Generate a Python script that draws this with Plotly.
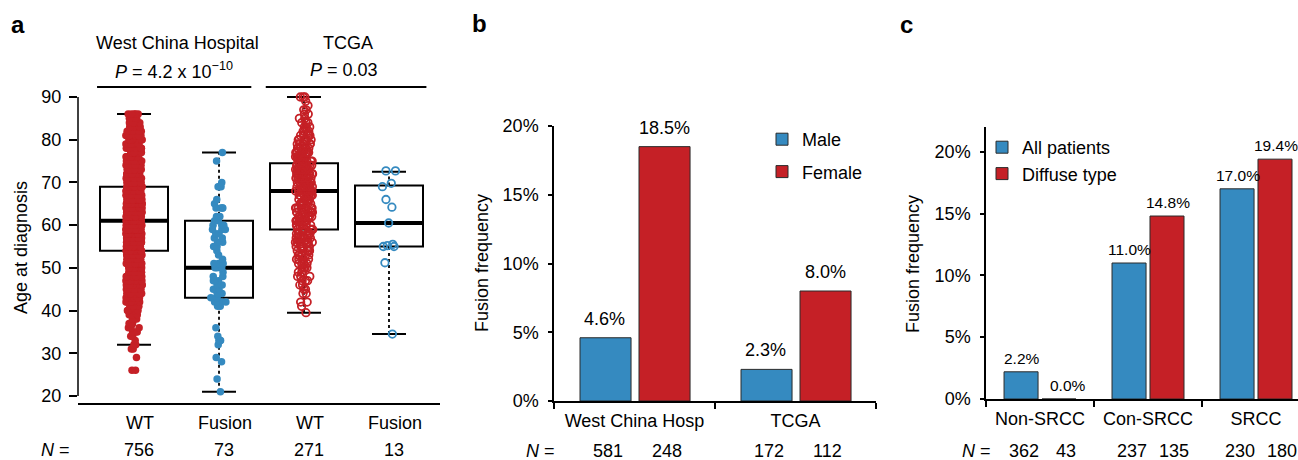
import numpy as np
import plotly.graph_objects as go

# ------------------------------------------------------------------ data
# Panel a : age at diagnosis
age_groups = ["WT", "Fusion", "WT", "Fusion"]
age_cohorts = ["West China Hospital", "TCGA"]
p_texts = ["<i>P</i> = 4.2 x 10<sup>\u221210</sup>", "<i>P</i> = 0.03"]
n_a = [756, 73, 271, 13]
age_ticks = [20, 30, 40, 50, 60, 70, 80, 90]

box_q1 = [54, 43, 59, 55]
box_med = [61, 50, 68, 60.5]
box_q3 = [69, 61, 74.5, 69.3]
box_lo = [32, 21, 39.5, 34.5]
box_hi = [86, 77, 90, 72.5]

# West China Hospital WT: ages and number of patients at each age (estimated)
whc_wt_age = [26, 29, 31, 32, 33, 34, 35, 36, 37, 38, 39, 40, 41, 42, 43, 44, 45, 46, 47, 48,
              49, 50, 51, 52, 53, 54, 55, 56, 57, 58, 59, 60, 61, 62, 63, 64, 65, 66, 67, 68,
              69, 70, 71, 72, 73, 74, 75, 76, 77, 78, 79, 80, 81, 82, 83, 84, 85, 86]
whc_wt_cnt = [2, 1, 2, 2, 1, 2, 3, 3, 3, 4, 4, 5, 6, 7, 8, 9, 10, 11, 12, 13,
              15, 16, 16, 17, 17, 25, 26, 27, 27, 28, 28, 28, 28, 27, 26, 25, 23, 22, 20, 18,
              18, 17, 16, 15, 14, 13, 12, 11, 10, 9, 8, 9, 8, 8, 7, 6, 3, 5]
# West China Hospital fusion (73 patients)
whc_fu_age = [77, 75, 70, 69, 69, 69, 66, 65, 64, 64, 64, 64, 62, 62, 61, 61, 60, 60, 60,
              59, 59, 59, 58, 58, 57, 57, 56, 56, 55, 55, 54, 53, 52, 51, 51, 51, 50, 50, 50,
              50, 49, 48, 48, 47, 47, 47, 46, 46, 45, 45, 44, 44, 44, 44, 43, 43, 43, 42, 42,
              42, 42, 41, 41, 36, 34, 33, 33, 33, 32, 29, 28, 24, 21]
# TCGA WT: ages and counts (estimated)
tcga_wt_age = [39.5, 41, 42, 44, 45, 46, 47, 48, 49, 50, 51, 52, 53, 54, 55, 56, 57, 58,
               59, 60, 61, 62, 63, 64, 65, 66, 67, 68, 69, 70, 71, 72, 73, 74,
               75, 76, 77, 78, 79, 80, 81, 82, 83, 84, 85, 86, 87, 88, 89, 90]
tcga_wt_cnt = [1, 1, 2, 2, 2, 2, 3, 3, 3, 4, 4, 4, 5, 5, 6, 7, 7, 7,
               7, 7, 7, 8, 8, 8, 8, 8, 7, 10, 10, 10, 10, 9, 9, 9,
               8, 8, 7, 7, 6, 6, 5, 4, 3, 3, 2, 2, 2, 1, 1, 3]
# TCGA fusion (13 patients)
tcga_fu_age = [72.7, 72.7, 69.8, 69.0, 66.0, 64.2, 60.5, 55.5, 55.0, 55.0, 55.2, 51.2, 34.5]

# Panel b : fusion frequency by sex
b_cohorts = ["West China Hosp", "TCGA"]
b_male = [4.6, 2.3]
b_female = [18.5, 8.0]
b_n_male = [581, 172]
b_n_female = [248, 112]

# Panel c : fusion frequency by histology
c_types = ["Non-SRCC", "Con-SRCC", "SRCC"]
c_all = [2.2, 11.0, 17.0]
c_diffuse = [0.0, 14.8, 19.4]
c_n_all = [362, 237, 230]
c_n_diffuse = [43, 135, 180]

pct_ticks = [0, 5, 10, 15, 20]
pct_labels = [f"{t}%" for t in pct_ticks]

# ------------------------------------------------------------------ style
W, H = 1298, 460
FONT = "Liberation Sans, Arial, Helvetica, sans-serif"
RED = "#C52026"
BLUE = "#358AC0"
EDGE = "#2a2a2a"


def fx(px):
    return px / W


def fy(py):
    return 1 - py / H


fig = go.Figure()
shapes = []

# ------------------------------------------------------------------ panel a
pos_a = list(range(1, len(age_groups) + 1))
HALF_BOX = 0.4
HALF_CAP = 0.2
for i, p in enumerate(pos_a):
    common = dict(xref="x", yref="y", layer="below")
    # dotted whiskers
    shapes.append(dict(type="line", x0=p, x1=p, y0=box_q3[i], y1=box_hi[i],
                       line=dict(color="black", width=1.8, dash="3px,3px"), **common))
    shapes.append(dict(type="line", x0=p, x1=p, y0=box_lo[i], y1=box_q1[i],
                       line=dict(color="black", width=1.8, dash="3px,3px"), **common))
    # caps
    for v in (box_hi[i], box_lo[i]):
        shapes.append(dict(type="line", x0=p - HALF_CAP, x1=p + HALF_CAP, y0=v, y1=v,
                           line=dict(color="black", width=2), **common))
    # box
    shapes.append(dict(type="rect", x0=p - HALF_BOX, x1=p + HALF_BOX, y0=box_q1[i], y1=box_q3[i],
                       fillcolor="white", line=dict(color="black", width=2), **common))
    # median
    shapes.append(dict(type="line", x0=p - HALF_BOX, x1=p + HALF_BOX, y0=box_med[i], y1=box_med[i],
                       line=dict(color="black", width=4), **common))

point_sets = [
    (np.repeat(whc_wt_age, whc_wt_cnt), RED, "circle", 0.24),
    (np.array(whc_fu_age), BLUE, "circle", 0.28),
    (np.repeat(tcga_wt_age, tcga_wt_cnt), RED, "circle-open", 0.26),
    (np.array(tcga_fu_age), BLUE, "circle-open", 0.3),
]
for p, (vals, col, sym, jit) in zip(pos_a, point_sets):
    is_open = sym.endswith("open")
    fig.add_trace(go.Box(
        x=[p] * len(vals), y=vals, boxpoints="all", jitter=jit, pointpos=0, width=0.8,
        fillcolor="rgba(0,0,0,0)", line=dict(color="rgba(0,0,0,0)", width=0),
        marker=dict(color=col, size=7.5 if not is_open else 7.5, symbol=sym,
                    line=dict(color=col, width=1.8 if is_open else 0)),
        showlegend=False, hoverinfo="y", xaxis="x", yaxis="y"))

# ------------------------------------------------------------------ panel b
fig.add_trace(go.Bar(
    x=b_cohorts, y=b_male, name="Male", marker=dict(color=BLUE, line=dict(color=EDGE, width=1)),
    width=0.317, offset=-0.3385, xaxis="x2", yaxis="y2", legend="legend", legendgroup="m"))
fig.add_trace(go.Bar(
    x=b_cohorts, y=b_female, name="Female", marker=dict(color=RED, line=dict(color=EDGE, width=1)),
    width=0.317, offset=0.028, xaxis="x2", yaxis="y2", legend="legend", legendgroup="f"))

# ------------------------------------------------------------------ panel c
fig.add_trace(go.Bar(
    x=c_types, y=c_all, name="All patients", marker=dict(color=BLUE, line=dict(color=EDGE, width=1)),
    width=0.315, offset=-0.333, xaxis="x3", yaxis="y3", legend="legend2", legendgroup="a"))
fig.add_trace(go.Bar(
    x=c_types, y=c_diffuse, name="Diffuse type", marker=dict(color=RED, line=dict(color=EDGE, width=1)),
    width=0.315, offset=0.0185, xaxis="x3", yaxis="y3", legend="legend2", legendgroup="d"))

# ------------------------------------------------------------------ annotations
ann = []
F18 = dict(family=FONT, size=18, color="black")


def txt(text, x, y, xref="paper", yref="paper", size=18, **kw):
    d = dict(text=text, x=x, y=y, xref=xref, yref=yref, showarrow=False,
             xanchor="center", yanchor="middle",
             font=dict(family=FONT, size=size, color="black"))
    d.update(kw)
    ann.append(d)


# panel letters
txt("<b>a</b>", fx(18), fy(24), size=24)
txt("<b>b</b>", fx(479), fy(23), size=24)
txt("<b>c</b>", fx(906), fy(24), size=24)

# y-axis titles
txt("Age at diagnosis", fx(21), fy(248), textangle=-90)
txt("Fusion frequency", fx(482), fy(263), textangle=-90)
txt("Fusion frequency", fx(913), fy(264), textangle=-90)

# panel a headers
for k, (name, ptxt) in enumerate(zip(age_cohorts, p_texts)):
    mid = (pos_a[2 * k] + pos_a[2 * k + 1]) / 2
    txt(name, mid, fy(43), xref="x", xshift=1)
    txt(ptxt, mid, fy(70), xref="x", xshift=-3)

# N rows
txt("<i>N</i> =", fx(55), fy(450))
for p, n in zip(pos_a, n_a):
    txt(str(n), p, fy(450), xref="x", xshift=5)
txt("<i>N</i> =", fx(540), fy(451))
for cat, nm, nf in zip(b_cohorts, b_n_male, b_n_female):
    txt(str(nm), cat, fy(451), xref="x2", xshift=-27)
    txt(str(nf), cat, fy(451), xref="x2", xshift=32)
txt("<i>N</i> =", fx(977), fy(451))
for cat, na, nd in zip(c_types, c_n_all, c_n_diffuse):
    txt(str(na), cat, fy(451), xref="x3", xshift=-16)
    txt(str(nd), cat, fy(451), xref="x3", xshift=26)

# bar value labels
for cat, vm, vf in zip(b_cohorts, b_male, b_female):
    txt(f"{vm:.1f}%", cat, vm, xref="x2", yref="y2", xshift=-30, yshift=7, yanchor="bottom")
    txt(f"{vf:.1f}%", cat, vf, xref="x2", yref="y2", xshift=30, yshift=7, yanchor="bottom")
for cat, va, vd in zip(c_types, c_all, c_diffuse):
    txt(f"{va:.1f}%", cat, va, xref="x3", yref="y3", xshift=-18, yshift=3, yanchor="bottom", size=15.5)
    txt(f"{vd:.1f}%", cat, vd, xref="x3", yref="y3", xshift=28 if vd == 0 else 20, yshift=3,
        yanchor="bottom", size=15.5)

# ------------------------------------------------------------------ other shapes
shapes += [
    # panel a y axis line spanning the tick range
    dict(type="line", xref="x domain", x0=0, x1=0, yref="y", y0=min(age_ticks), y1=max(age_ticks),
         line=dict(color="black", width=1.5)),
    # header lines
    dict(type="line", xref="x", x0=pos_a[0] - 0.435, x1=pos_a[1] + 0.38, yref="paper", y0=fy(87), y1=fy(87),
         line=dict(color="black", width=2)),
    dict(type="line", xref="x", x0=pos_a[2] - 0.45, x1=pos_a[3] + 0.44, yref="paper", y0=fy(87), y1=fy(87),
         line=dict(color="black", width=2)),
]

# ------------------------------------------------------------------ layout
axis_common = dict(showgrid=False, zeroline=False, tickfont=F18, color="black", automargin=False)

fig.update_layout(
    width=W, height=H, margin=dict(l=0, r=0, t=0, b=0, pad=0, autoexpand=False),
    paper_bgcolor="white", plot_bgcolor="rgba(0,0,0,0)",
    font=dict(family=FONT, size=18, color="black"),
    barmode="group",
    xaxis=dict(domain=[fx(78), fx(440)], range=[0.341, 4.6], tickmode="array",
               tickvals=[p + 0.07 for p in pos_a], ticktext=age_groups, ticks="",
               showline=True, linecolor="black", linewidth=2, ticklabelstandoff=2,
               anchor="y", **axis_common),
    yaxis=dict(domain=[fy(403), fy(90)], range=[18.361, 91.64], tickmode="array", tickvals=age_ticks,
               ticks="outside", ticklen=8, tickwidth=1.5, tickcolor="black", showline=False,
               ticklabelstandoff=4, anchor="x", **axis_common),
    xaxis2=dict(domain=[fx(554), fx(876)], range=[-0.5, 1.5], type="category",
                ticks="outside", tickson="boundaries", ticklen=6, tickwidth=1.5, tickcolor="black",
                showline=True, linecolor="black", linewidth=1.5, ticklabelstandoff=3,
                anchor="y2", **axis_common),
    yaxis2=dict(domain=[fy(401), fy(126)], range=[0, 20], tickmode="array", tickvals=pct_ticks,
                ticktext=pct_labels,
                ticks="outside", ticklen=4, tickwidth=1.5, tickcolor="black",
                showline=True, linecolor="black", linewidth=1.5, ticklabelstandoff=6,
                anchor="x2", **axis_common),
    xaxis3=dict(domain=[fx(986), 1.0], range=[-0.5, 2.389], type="category",
                ticks="outside", tickson="boundaries", ticklen=6, tickwidth=1.5, tickcolor="black",
                showline=True, linecolor="black", linewidth=1.5, ticklabelstandoff=3,
                anchor="y3", **axis_common),
    yaxis3=dict(domain=[fy(399), fy(127)], range=[0, 22], tickmode="array", tickvals=pct_ticks,
                ticktext=pct_labels,
                ticks="outside", ticklen=4, tickwidth=1.5, tickcolor="black",
                showline=True, linecolor="black", linewidth=1.5, ticklabelstandoff=6,
                anchor="x3", **axis_common),
    legend=dict(x=fx(762), y=fy(121), xanchor="left", yanchor="top", bgcolor="rgba(0,0,0,0)",
                font=F18, tracegroupgap=6, itemclick=False),
    legend2=dict(x=fx(982), y=fy(129), xanchor="left", yanchor="top", bgcolor="rgba(0,0,0,0)",
                 font=F18, tracegroupgap=0, itemclick=False),
    annotations=ann,
    shapes=shapes,
    showlegend=True,
)

fig.write_html(
    "out.html",
    config={"displayModeBar": False},
    post_script="document.body.style.margin='0';document.body.style.padding='0';"
                "document.documentElement.style.overflow='hidden';",
)
